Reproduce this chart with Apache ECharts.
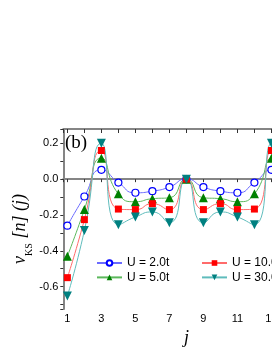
<!DOCTYPE html>
<html>
<head>
<meta charset="utf-8">
<script src="https://cdn.jsdelivr.net/npm/echarts@6/dist/echarts.min.js"></script>
<style>
html,body{margin:0;padding:0;background:#fff;overflow:hidden;}
#c{width:330px;height:352px;}
</style>
</head>
<body>
<div id="c"></div>
<script>
// site index j
const sites = [1,2,3,4,5,6,7,8,9,10,11,12,13,14,15];
// v_KS[n](j) for each U
const u2  = [-0.26,-0.097,0.052,-0.019,-0.076,-0.067,-0.044,0,-0.044,-0.067,-0.076,-0.019,0.052,-0.097,-0.26];
const u5  = [-0.43,-0.17,0.117,-0.082,-0.126,-0.109,-0.104,0,-0.104,-0.109,-0.126,-0.082,0.117,-0.17,-0.43];
const u10 = [-0.55,-0.226,0.16,-0.167,-0.17,-0.137,-0.17,0,-0.17,-0.137,-0.17,-0.167,0.16,-0.226,-0.55];
const u30 = [-0.652,-0.287,0.2,-0.254,-0.211,-0.183,-0.243,0,-0.243,-0.183,-0.211,-0.254,0.2,-0.287,-0.652];
const seriesNames = ['U = 2.0t','U = 5.0t','U = 10.0t','U = 30.0t'];
const xTickLabels = ['1','3','5','7','9','11','13','15'];
const yTickLabels = ['-0.6','-0.4','-0.2','0.0','0.2'];

const chart = echarts.init(document.getElementById('c'), null, {renderer:'canvas'});
const pairs = arr => sites.map((x,i)=>[x, arr[i]]);
const axisCol = '#858585';
const tickCol = '#333';

function xFmt(v){
  const s = String(Math.round(v));
  return (Math.abs(v-Math.round(v))<1e-6 && xTickLabels.indexOf(s)>=0) ? s : '';
}
function yFmt(v){
  const r = Math.round(v*10);
  if (Math.abs(v*10-r)>1e-6) return '';
  const s = (r/10).toFixed(1).replace('-0.0','0.0');
  return yTickLabels.indexOf(s)>=0 ? s : '';
}

const serif = 'Liberation Serif';
const sans = 'Liberation Sans';

function mk(name, data, symbol, size, color, lineColor, rotate, empty){
  return {
    name, type:'line', data: pairs(data), smooth:0.6,
    symbol, symbolSize:size, symbolRotate: rotate||0,
    showSymbol:true, animation:false,
    lineStyle:{color:lineColor, width:1},
    itemStyle: empty ? {color:'#fff', borderColor:color, borderWidth:1.2} : {color:color, borderWidth:0},
    emphasis:{disabled:true}
  };
}

chart.setOption({
  animation:false,
  grid:{left:63.3, top:129, width:246.2, height:181},
  xAxis:[{
    type:'value', min:0.76, max:15.24, splitNumber:14, position:'bottom',
    axisLine:{lineStyle:{color:axisCol,width:2}},
    axisTick:{inside:false,length:3,lineStyle:{color:tickCol}},
    axisLabel:{formatter:xFmt, color:'#000', fontFamily:sans, fontSize:11, margin:4, showMinLabel:true, showMaxLabel:true, hideOverlap:false},
    splitLine:{show:false},
    name:'j', nameLocation:'middle', nameGap:20,
    nameTextStyle:{fontFamily:serif, fontStyle:'italic', fontSize:18, color:'#000'}
  },{
    type:'value', min:0.76, max:15.24, splitNumber:14, position:'top',
    axisLine:{lineStyle:{color:axisCol,width:2}},
    axisTick:{inside:true,length:4,lineStyle:{color:tickCol}},
    axisLabel:{show:false}, splitLine:{show:false}
  }],
  yAxis:[{
    type:'value', min:-0.725, max:0.28, splitNumber:10,
    axisLine:{show:true,lineStyle:{color:axisCol,width:2}},
    axisTick:{show:true,inside:false,length:3,lineStyle:{color:tickCol}},
    axisLabel:{formatter:yFmt, color:'#000', fontFamily:sans, fontSize:11, margin:5, hideOverlap:false},
    splitLine:{show:false}
  }],
  legend:[{
    data:[seriesNames[0],seriesNames[1]], orient:'vertical', left:96, top:256.5,
    itemWidth:25, itemHeight:7, itemGap:1.4, padding:0, selectedMode:false,
    textStyle:{fontFamily:sans, fontSize:12, color:'#000', lineHeight:13}
  },{
    data:[seriesNames[2],seriesNames[3]], orient:'vertical', left:201, top:256.5,
    itemWidth:25, itemHeight:7, itemGap:1.4, padding:0, selectedMode:false,
    textStyle:{fontFamily:sans, fontSize:12, color:'#000', lineHeight:13}
  }],
  graphic:[{
    type:'text', x:65, y:134,
    style:{text:'(b)', font:'19px "Liberation Serif"', fill:'#000'}
  },{
    type:'text', x:20, y:229, rotation:Math.PI/2,
    style:{
      text:'{a|v}{b|KS}{c| [n] (j)}', align:'center', verticalAlign:'middle', fill:'#000',
      rich:{
        a:{fontFamily:serif, fontStyle:'italic', fontSize:18, lineHeight:28, fill:'#000'},
        b:{fontFamily:serif, fontSize:10, lineHeight:11, verticalAlign:'bottom', fill:'#000'},
        c:{fontFamily:serif, fontStyle:'italic', fontSize:18, lineHeight:28, fill:'#000'}
      }
    }
  }],
  series:[
    mk(seriesNames[0], u2, 'circle', 7, '#0000ff', '#6b6bff', 0, true),
    mk(seriesNames[1], u5, 'triangle', 9, '#008000', '#5cb85c', 0, false),
    mk(seriesNames[2], u10, 'rect', 7, '#ff0000', '#ff6b6b', 0, false),
    mk(seriesNames[3], u30, 'triangle', 9, '#008080', '#5fbcbc', 180, false)
  ]
});
</script>
</body>
</html>
